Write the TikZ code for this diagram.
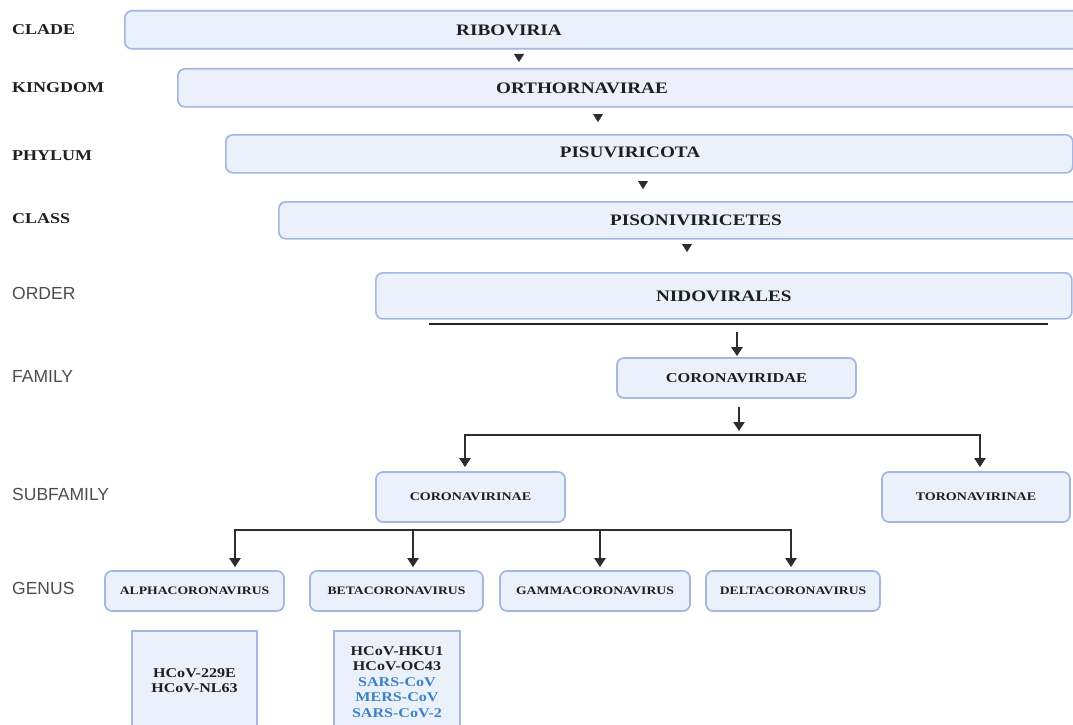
\documentclass[tikz,border=0pt]{standalone}
\usepackage{fontspec}
\setmainfont{Liberation Serif}[FakeStretch=1.2]
\newfontfamily\ranksansfont{Liberation Sans}
\usetikzlibrary{arrows.meta}
\definecolor{boxfill}{RGB}{235,241,251}
\definecolor{boxline}{RGB}{163,183,225}
\definecolor{linkgray}{RGB}{45,45,45}
\definecolor{ranktext}{RGB}{77,77,77}
\definecolor{humanblue}{RGB}{59,130,200}
\newcommand{\txtsize}[2]{\fontsize{#1}{#2}\selectfont}

\begin{document}
\begin{tikzpicture}[x=1pt, y=-1pt,
  box/.style={draw=boxline, fill=boxfill, line width=1.7pt, rounded corners=7pt, inner sep=0pt, text=black!88},
  specbox/.style={draw=boxline, fill=boxfill, line width=1.8pt, inner sep=0pt, align=center, text=black!88, font=\txtsize{13.4}{15.5}\bfseries},
  toptext/.style={inner sep=0pt, text=black!88, font=\txtsize{16}{19}\bfseries},
  rank/.style={anchor=west, inner sep=0pt, text=black!88, font=\txtsize{15}{18}\bfseries},
  ranksans/.style={anchor=west, inner sep=0pt, font=\ranksansfont\txtsize{17.5}{20}, text=ranktext},
  arr/.style={-{Triangle[width=11pt,length=9pt]}, line width=2.2pt, draw=linkgray},
  arrs/.style={{Triangle[width=11pt,length=9pt]}-{Triangle[width=11pt,length=9pt]}, line width=2.2pt, draw=linkgray},
  tri/.style={-{Triangle[width=10pt,length=8pt]}, line width=0.3pt, draw=linkgray}]
  \clip (0,0) rectangle (1073,725);
  \fill[white] (0,0) rectangle (1073,725);

  \node[rank] (clade) at (12,30) {CLADE};
  \node[rank] (kingdom) at (12,88) {KINGDOM};
  \node[rank] (phylum) at (12,156) {PHYLUM};
  \node[rank] (class) at (12,219) {CLASS};
  \node[ranksans] (order) at (12,293) {ORDER};
  \node[ranksans] (family) at (12,376) {FAMILY};
  \node[ranksans] (subfamily) at (12,494) {SUBFAMILY};
  \node[ranksans] (genus) at (12,588) {GENUS};

  \node[box, anchor=north west, minimum width=1000pt, minimum height=38pt] (ribo) at (124,10) {};
  \node[box, anchor=north west, minimum width=950pt, minimum height=38pt] (orth) at (177,68) {};
  \node[box, anchor=north west, minimum width=847pt, minimum height=38pt] (pisu) at (225,134) {};
  \node[box, anchor=north west, minimum width=810pt, minimum height=37pt] (pison) at (278,201) {};
  \node[toptext] (riboT) at (509,30) {RIBOVIRIA};
  \node[toptext] (orthT) at (582,88) {ORTHORNAVIRAE};
  \node[toptext] (pisuT) at (630,152) {PISUVIRICOTA};
  \node[toptext] (pisonT) at (696,220) {PISONIVIRICETES};
  \node[box, toptext, anchor=north west, minimum width=696pt, minimum height=46pt] (nido) at (375,272) {NIDOVIRALES};

  \coordinate (t1) at ([xshift=10pt]riboT.south);
  \coordinate (t2) at ([xshift=16pt]orthT.south);
  \coordinate (t3) at ([xshift=13pt]pisuT.south);
  \coordinate (t4) at ([xshift=-9pt]pisonT.south);
  \draw[tri, shorten <=6pt, shorten >=6pt] (t1 |- ribo.south) -- (t1 |- orth.north);
  \draw[tri, shorten <=8pt, shorten >=12pt] (t2 |- orth.south) -- (t2 |- pisu.north);
  \draw[tri, shorten <=9pt, shorten >=12pt] (t3 |- pisu.south) -- (t3 |- pison.north);
  \draw[tri, shorten <=6pt, shorten >=20pt] (t4 |- pison.south) -- (t4 |- nido.north);

  \coordinate (lineL) at (429,324);
  \coordinate (lineR) at (1048,324);
  \draw[line width=2.5pt, draw=black!85] (lineL) -- (lineR);

  \node[box, font=\txtsize{13.6}{16}\bfseries, minimum width=239pt, minimum height=40pt] (corona) at (736.5,378) {CORONAVIRIDAE};
  \coordinate (fa) at (737,332);
  \draw[arr, shorten >=1pt] (fa) -- (fa |- corona.north);

  \node[box, font=\txtsize{11.7}{14}\bfseries, minimum width=189pt, minimum height=50pt] (cvr) at (470.5,497) {CORONAVIRINAE};
  \node[box, font=\txtsize{11.7}{14}\bfseries, minimum width=188pt, minimum height=50pt] (toro) at (976,497) {TORONAVIRINAE};
  \coordinate (sb) at (739,435);
  \coordinate (subL) at (465,435);
  \coordinate (subR) at (980,435);
  \draw[arr, shorten <=8pt, shorten >=4pt] (sb |- corona.south) -- (sb);
  \draw[arrs, shorten <=4pt, shorten >=4pt] (subL |- cvr.north) -- (subL) -- (subR) -- (subR |- toro.north);

  \node[box, font=\txtsize{11.4}{14}\bfseries, minimum width=179pt, minimum height=40pt] (alpha) at (194.5,591) {ALPHACORONAVIRUS};
  \node[box, font=\txtsize{11.4}{14}\bfseries, minimum width=173pt, minimum height=40pt] (beta) at (396.5,591) {BETACORONAVIRUS};
  \node[box, font=\txtsize{11.4}{14}\bfseries, minimum width=190pt, minimum height=40pt] (gamma) at (595,591) {GAMMACORONAVIRUS};
  \node[box, font=\txtsize{11.4}{14}\bfseries, minimum width=174pt, minimum height=40pt] (delta) at (793,591) {DELTACORONAVIRUS};
  \coordinate (g1) at (235,530);
  \coordinate (g2) at (413,530);
  \coordinate (g3) at (600,530);
  \coordinate (g4) at (791,530);
  \draw[arrs, shorten <=3pt, shorten >=3pt] (g1 |- alpha.north) -- (g1) -- (g4) -- (g4 |- delta.north);
  \draw[arr, shorten >=3pt] (g2) -- (g2 |- beta.north);
  \draw[arr, shorten >=3pt] (g3) -- (g3 |- gamma.north);

  \node[specbox, anchor=north, minimum width=125pt, minimum height=100pt] (alphasp) at (194.5,630) {HCoV-229E\\HCoV-NL63};
  \node[specbox, anchor=north, minimum width=126pt, minimum height=102pt] (betasp) at (397,630) {HCoV-HKU1\\HCoV-OC43\\\textcolor{humanblue}{SARS-CoV}\\\textcolor{humanblue}{MERS-CoV}\\\textcolor{humanblue}{SARS-CoV-2}};
\end{tikzpicture}
\end{document}
